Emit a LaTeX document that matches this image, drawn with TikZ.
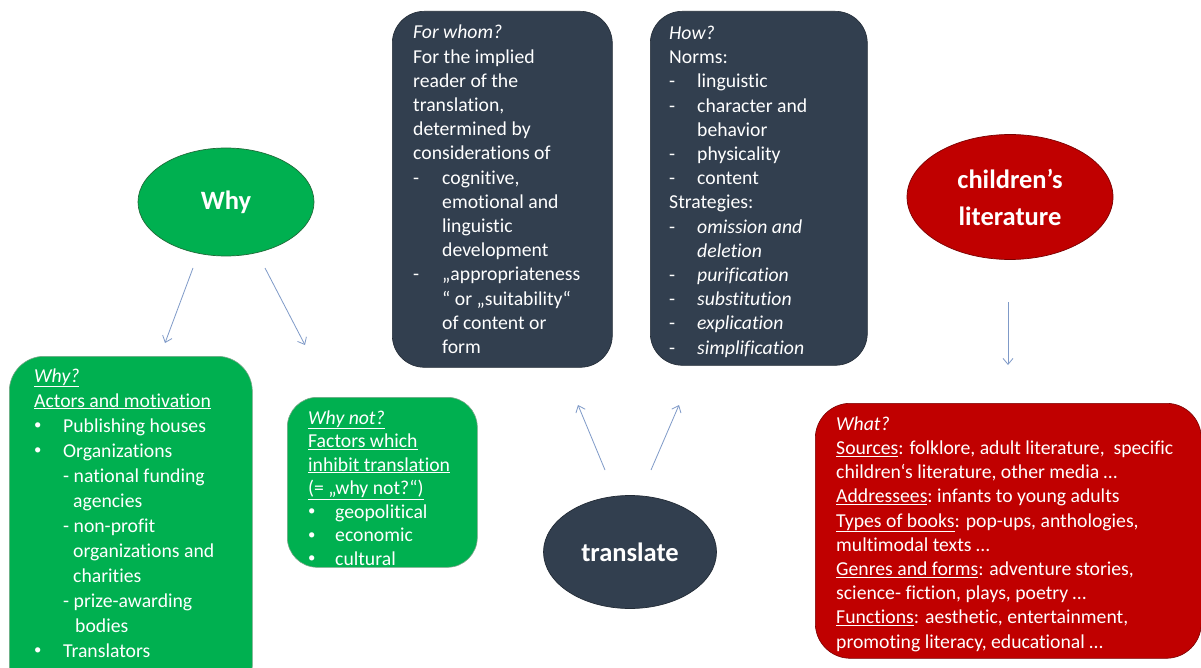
\documentclass[tikz,border=0pt]{standalone}
\usepackage{fontspec}
\setmainfont[Ligatures={NoCommon}]{Carlito}
\usetikzlibrary{arrows.meta,shapes.geometric}
\definecolor{gr}{HTML}{00B050}
\definecolor{grl}{HTML}{1F6B38}
\definecolor{nv}{HTML}{323F4F}
\definecolor{nvl}{HTML}{222B36}
\definecolor{rd}{HTML}{C00000}
\definecolor{rdl}{HTML}{7A0000}
\definecolor{ar}{HTML}{7F9AC8}
\newcommand{\lead}[2]{\makebox[#1][l]{#2}}
\newcommand{\bulx}{\raisebox{0.12em}{\scalebox{0.75}{\textbullet}}}
\begin{document}
\begin{tikzpicture}[x=1pt,y=-1pt,
  box/.style={rectangle, rounded corners=#1, line width=0.6pt, inner sep=0pt, anchor=north west},
  txt/.style={anchor=base west, text=white, align=left, inner sep=0pt, font=\fontsize{19.7}{24.2}\selectfont},
  ell/.style={ellipse, inner sep=0pt, line width=0.7pt, text=white, align=center, font=\fontsize{26.5}{37}\selectfont\bfseries},
  arr/.style={draw=ar, line width=0.8pt, -{Straight Barb[length=6pt,width=10pt]}}
]
\useasboundingbox (0,0) rectangle (1201,668);
\clip (0,0) rectangle (1201,668);
\fill[white] (0,0) rectangle (1201,668);

% boxes
\node[box=35pt, fill=gr, draw=grl!60, minimum width=243pt, minimum height=344pt] (whybox) at (9,356) {};
\node[box=30pt, fill=gr, draw=grl!60, minimum width=190pt, minimum height=170pt] (notbox) at (287,397) {};
\node[box=32pt, fill=nv, draw=nvl, minimum width=220pt, minimum height=356pt] (whombox) at (392,11) {};
\node[box=32pt, fill=nv, draw=nvl, minimum width=217pt, minimum height=354pt] (howbox) at (650,11) {};
\node[box=35pt, fill=rd, draw=rdl, minimum width=386pt, minimum height=255pt] (whatbox) at (815,403) {};

% ellipses
\node[ell, fill=gr, draw=grl, minimum width=176pt, minimum height=108pt] (why) at (226,202) {Why};
\node[ell, fill=nv, draw=nvl, minimum width=173pt, minimum height=113pt] (tr) at (630,552) {translate};
\node[ell, fill=rd, draw=rdl, minimum width=206pt, minimum height=125pt] (cl) at (1010,197) {children’s\\literature};

% texts (anchored at the baseline of their last line)
\node[txt, font=\fontsize{19.7}{25}\selectfont] (whytxt) at (34,657) {%
\underline{\textit{Why?}}\\
\underline{Actors and motivation}\\
\lead{29pt}{\bulx}Publishing houses\\
\lead{29pt}{\bulx}Organizations\\
\hspace*{29pt}- national funding\\
\hspace*{39pt}agencies\\
\hspace*{29pt}- non-profit\\
\hspace*{39pt}organizations and\\
\hspace*{39pt}charities\\
\hspace*{29pt}- prize-awarding\\
\hspace*{41pt}bodies\\
\lead{29pt}{\bulx}Translators};

\node[txt, font=\fontsize{19.7}{23.5}\selectfont] (nottxt) at (308,565) {%
\underline{\textit{Why not?}}\\
\underline{Factors which}\\
\underline{inhibit translation}\\
\underline{(= „why not?“)}\\
\lead{27pt}{\bulx}geopolitical\\
\lead{27pt}{\bulx}economic\\
\lead{27pt}{\bulx}cultural};

\node[txt] (whomtxt) at (413,353.5) {%
\textit{For whom?}\\
For the implied\\
reader of the\\
translation,\\
determined by\\
considerations of\\
\lead{29pt}{-}cognitive,\\
\hspace*{29pt}emotional and\\
\hspace*{29pt}linguistic\\
\hspace*{29pt}development\\
\lead{29pt}{-}„appropriateness\\
\hspace*{29pt}“ or „suitability“\\
\hspace*{29pt}of content or\\
\hspace*{29pt}form};

\node[txt] (howtxt) at (669,354) {%
\textit{How?}\\
Norms:\\
\lead{28pt}{-}linguistic\\
\lead{28pt}{-}character and\\
\hspace*{28pt}behavior\\
\lead{28pt}{-}physicality\\
\lead{28pt}{-}content\\
Strategies:\\
\lead{28pt}{-}\textit{omission and}\\
\hspace*{28pt}\textit{deletion}\\
\lead{28pt}{-}\textit{purification}\\
\lead{28pt}{-}\textit{substitution}\\
\lead{28pt}{-}\textit{explication}\\
\lead{28pt}{-}\textit{simplification}};

\node[txt] (whattxt) at (836,648) {%
\textit{What?}\\
\underline{Sources}: folklore, adult literature,\ \ specific\\
children‘s literature, other media …\\
\underline{Addressees}:\ infants to young adults\\
\underline{Types of books}: pop-ups, anthologies,\\
multimodal texts …\\
\underline{Genres and forms}: adventure stories,\\
science- fiction, plays, poetry …\\
\underline{Functions}: aesthetic, entertainment,\\
promoting literacy, educational …};

% arrows
\coordinate (a1s) at (193,268);
\coordinate (a1e) at (165,343);
\coordinate (a2s) at (265,268);
\coordinate (a2e) at (305,345);
\coordinate (a3s) at (605,470);
\coordinate (a3e) at (578,405);
\coordinate (a4s) at (651,470);
\coordinate (a4e) at (679,405);
\coordinate (a5s) at (1008,302);
\coordinate (a5e) at (1008,365);
\draw[arr] (a1s) -- (a1e);
\draw[arr] (a2s) -- (a2e);
\draw[arr] (a3s) -- (a3e);
\draw[arr] (a4s) -- (a4e);
\draw[arr] (a5s) -- (a5e);
\end{tikzpicture}
\end{document}
